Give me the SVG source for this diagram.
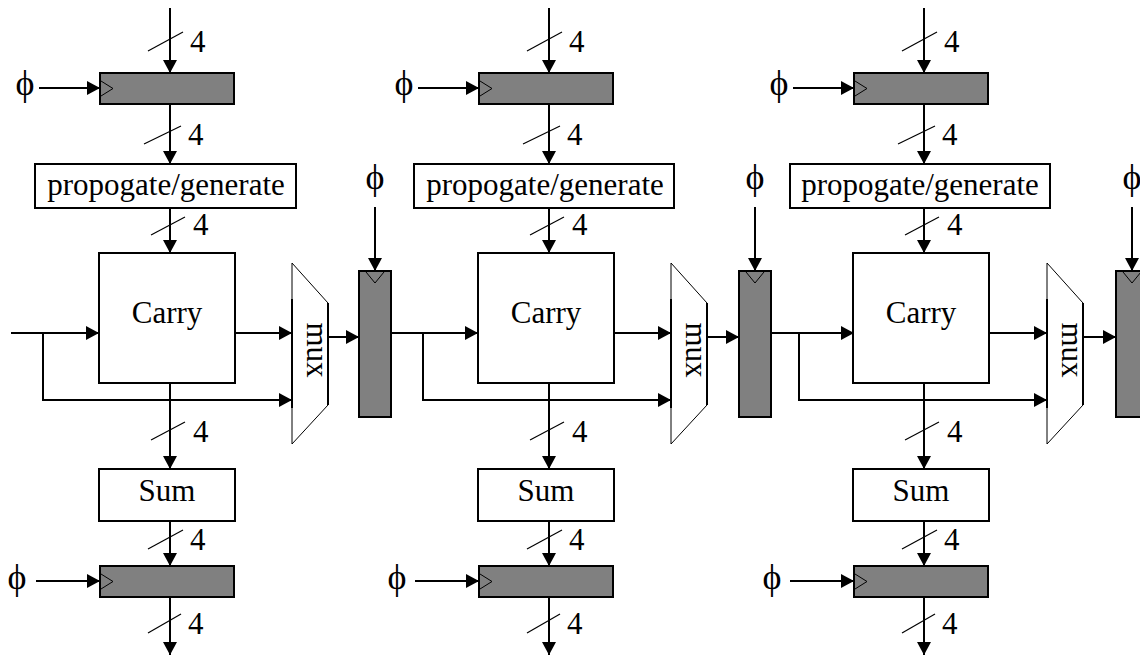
<svg xmlns="http://www.w3.org/2000/svg" width="1140" height="656" viewBox="0 0 1140 656">
<style>
text{font-family:"Liberation Serif","Times New Roman",serif;font-size:31px;fill:#000}
.m{text-anchor:middle}
.box{fill:#fff;stroke:#000;stroke-width:2}
.reg{fill:#808080;stroke:#000;stroke-width:2}
.clk{fill:none;stroke:#000;stroke-width:1}
.w{fill:none;stroke:#000;stroke-width:2}
.a{fill:none;stroke:#000;stroke-width:2;marker-end:url(#ah)}
.s{stroke:#000;stroke-width:1.2}
.mx{fill:#fff;stroke:#000;stroke-width:1}
.phi{font-size:36px}
</style>
<defs>
<marker id="ah" markerUnits="userSpaceOnUse" markerWidth="14" markerHeight="14" refX="13" refY="7" orient="auto">
<path d="M0,0 L13,7 L0,14 z" fill="#000"/>
</marker>
</defs>

<g id="connectors">
<!-- column 1 -->
<line class="a" x1="170" y1="8" x2="170" y2="73"/>
<line class="a" x1="39" y1="88" x2="100" y2="88"/>
<line class="a" x1="170" y1="104" x2="170" y2="164"/>
<line class="a" x1="170" y1="208" x2="170" y2="253"/>
<line class="a" x1="170" y1="383" x2="170" y2="469"/>
<line class="a" x1="170" y1="521" x2="170" y2="566"/>
<line class="a" x1="36" y1="581" x2="100" y2="581"/>
<line class="a" x1="170" y1="597" x2="170" y2="655"/>
<line class="a" x1="11" y1="333" x2="99" y2="333"/>
<polyline class="a" points="43,333 43,400 292,400"/>
<line class="a" x1="235" y1="333" x2="292" y2="333"/>
<line class="a" x1="328" y1="337" x2="359" y2="337"/>
<line class="a" x1="375" y1="207" x2="375" y2="271"/>
<line class="a" x1="391" y1="333" x2="478" y2="333"/>
<polyline class="a" points="423,333 423,400 671,400"/>
<!-- column 2 -->
<line class="a" x1="549" y1="8" x2="549" y2="73"/>
<line class="a" x1="418" y1="88" x2="479" y2="88"/>
<line class="a" x1="549" y1="104" x2="549" y2="164"/>
<line class="a" x1="549" y1="208" x2="549" y2="253"/>
<line class="a" x1="549" y1="383" x2="549" y2="469"/>
<line class="a" x1="549" y1="521" x2="549" y2="566"/>
<line class="a" x1="415" y1="581" x2="479" y2="581"/>
<line class="a" x1="549" y1="597" x2="549" y2="655"/>
<line class="a" x1="614" y1="333" x2="671" y2="333"/>
<line class="a" x1="707" y1="337" x2="739" y2="337"/>
<line class="a" x1="755" y1="207" x2="755" y2="271"/>
<line class="a" x1="770" y1="333" x2="854" y2="333"/>
<polyline class="a" points="799,333 799,400 1047,400"/>
<!-- column 3 -->
<line class="a" x1="924" y1="8" x2="924" y2="73"/>
<line class="a" x1="793" y1="88" x2="854" y2="88"/>
<line class="a" x1="924" y1="104" x2="924" y2="164"/>
<line class="a" x1="924" y1="208" x2="924" y2="253"/>
<line class="a" x1="924" y1="383" x2="924" y2="469"/>
<line class="a" x1="924" y1="521" x2="924" y2="566"/>
<line class="a" x1="790" y1="581" x2="854" y2="581"/>
<line class="a" x1="924" y1="597" x2="924" y2="655"/>
<line class="a" x1="989" y1="333" x2="1047" y2="333"/>
<line class="a" x1="1083" y1="337" x2="1116" y2="337"/>
<line class="a" x1="1132" y1="207" x2="1132" y2="271"/>
<!-- bus width slashes -->
<line class="s" x1="148" y1="51" x2="183" y2="32"/>
<line class="s" x1="144" y1="144" x2="181" y2="126"/>
<line class="s" x1="151" y1="235" x2="185" y2="217"/>
<line class="s" x1="151" y1="440" x2="185" y2="422"/>
<line class="s" x1="148" y1="549" x2="183" y2="530"/>
<line class="s" x1="148" y1="633" x2="181" y2="614"/>
<line class="s" x1="527" y1="51" x2="562" y2="32"/>
<line class="s" x1="523" y1="144" x2="560" y2="126"/>
<line class="s" x1="530" y1="235" x2="564" y2="217"/>
<line class="s" x1="530" y1="440" x2="564" y2="422"/>
<line class="s" x1="527" y1="549" x2="562" y2="530"/>
<line class="s" x1="527" y1="633" x2="560" y2="614"/>
<line class="s" x1="902" y1="51" x2="937" y2="32"/>
<line class="s" x1="898" y1="144" x2="935" y2="126"/>
<line class="s" x1="905" y1="235" x2="939" y2="217"/>
<line class="s" x1="905" y1="440" x2="939" y2="422"/>
<line class="s" x1="902" y1="549" x2="937" y2="530"/>
<line class="s" x1="902" y1="633" x2="935" y2="614"/>
<!-- labels -->
<text x="190" y="52">4</text>
<text x="188" y="145">4</text>
<text x="193" y="235">4</text>
<text x="193" y="442">4</text>
<text x="190" y="550">4</text>
<text x="188" y="634">4</text>
<text x="569" y="52">4</text>
<text x="567" y="145">4</text>
<text x="572" y="235">4</text>
<text x="572" y="442">4</text>
<text x="569" y="550">4</text>
<text x="567" y="634">4</text>
<text x="944" y="52">4</text>
<text x="942" y="145">4</text>
<text x="947" y="235">4</text>
<text x="947" y="442">4</text>
<text x="944" y="550">4</text>
<text x="942" y="634">4</text>
<text class="phi m" x="25" y="95">ϕ</text>
<text class="phi m" x="17" y="589">ϕ</text>
<text class="phi m" x="375" y="189">ϕ</text>
<text class="phi m" x="404" y="95">ϕ</text>
<text class="phi m" x="397" y="589">ϕ</text>
<text class="phi m" x="755" y="189">ϕ</text>
<text class="phi m" x="779" y="95">ϕ</text>
<text class="phi m" x="772" y="589">ϕ</text>
<text class="phi m" x="1132" y="189">ϕ</text>
</g>

<!-- column 1 nodes -->
<g id="regIn1"><rect class="reg" x="100" y="73" width="134" height="31"/><polyline class="clk" points="101,81 113,88.5 101,96"/></g>
<g id="pg1"><rect class="box" x="35" y="164" width="261" height="44"/><text class="m" x="166" y="195">propogate/generate</text></g>
<g id="carry1"><rect class="box" x="99" y="253" width="136" height="130"/><text class="m" x="167" y="323">Carry</text></g>
<g id="sum1"><rect class="box" x="99" y="469" width="136" height="52"/><text class="m" x="167" y="501">Sum</text></g>
<g id="regOut1"><rect class="reg" x="100" y="566" width="134" height="31"/><polyline class="clk" points="101,574 113,581.5 101,589"/></g>
<g id="mux1"><polygon class="mx" points="292,263 328,303 328,405 292,444"/><line class="w" x1="292" y1="299" x2="292" y2="408"/><line class="w" x1="328" y1="303" x2="328" y2="405"/><text class="m" transform="translate(307,350) rotate(90)">mux</text></g>
<g id="regC1"><rect class="reg" x="359" y="271" width="32" height="146"/><polyline class="clk" points="366,272 375,283 384,272"/></g>

<!-- column 2 nodes -->
<g id="regIn2"><rect class="reg" x="479" y="73" width="134" height="31"/><polyline class="clk" points="480,81 492,88.5 480,96"/></g>
<g id="pg2"><rect class="box" x="414" y="164" width="260" height="44"/><text class="m" x="545" y="195">propogate/generate</text></g>
<g id="carry2"><rect class="box" x="478" y="253" width="136" height="130"/><text class="m" x="546" y="323">Carry</text></g>
<g id="sum2"><rect class="box" x="478" y="469" width="136" height="52"/><text class="m" x="546" y="501">Sum</text></g>
<g id="regOut2"><rect class="reg" x="479" y="566" width="134" height="31"/><polyline class="clk" points="480,574 492,581.5 480,589"/></g>
<g id="mux2"><polygon class="mx" points="671,263 707,303 707,405 671,444"/><line class="w" x1="671" y1="299" x2="671" y2="408"/><line class="w" x1="707" y1="303" x2="707" y2="405"/><text class="m" transform="translate(686,350) rotate(90)">mux</text></g>
<g id="regC2"><rect class="reg" x="739" y="271" width="32" height="146"/><polyline class="clk" points="746,272 755,283 764,272"/></g>

<!-- column 3 nodes -->
<g id="regIn3"><rect class="reg" x="854" y="73" width="134" height="31"/><polyline class="clk" points="855,81 867,88.5 855,96"/></g>
<g id="pg3"><rect class="box" x="790" y="164" width="260" height="44"/><text class="m" x="920" y="195">propogate/generate</text></g>
<g id="carry3"><rect class="box" x="853" y="253" width="136" height="130"/><text class="m" x="921" y="323">Carry</text></g>
<g id="sum3"><rect class="box" x="853" y="469" width="136" height="52"/><text class="m" x="921" y="501">Sum</text></g>
<g id="regOut3"><rect class="reg" x="854" y="566" width="134" height="31"/><polyline class="clk" points="855,574 867,581.5 855,589"/></g>
<g id="mux3"><polygon class="mx" points="1047,263 1083,303 1083,405 1047,444"/><line class="w" x1="1047" y1="299" x2="1047" y2="408"/><line class="w" x1="1083" y1="303" x2="1083" y2="405"/><text class="m" transform="translate(1062,350) rotate(90)">mux</text></g>
<g id="regC3"><rect class="reg" x="1116" y="271" width="32" height="146"/><polyline class="clk" points="1123,272 1132,283 1141,272"/></g>
</svg>
